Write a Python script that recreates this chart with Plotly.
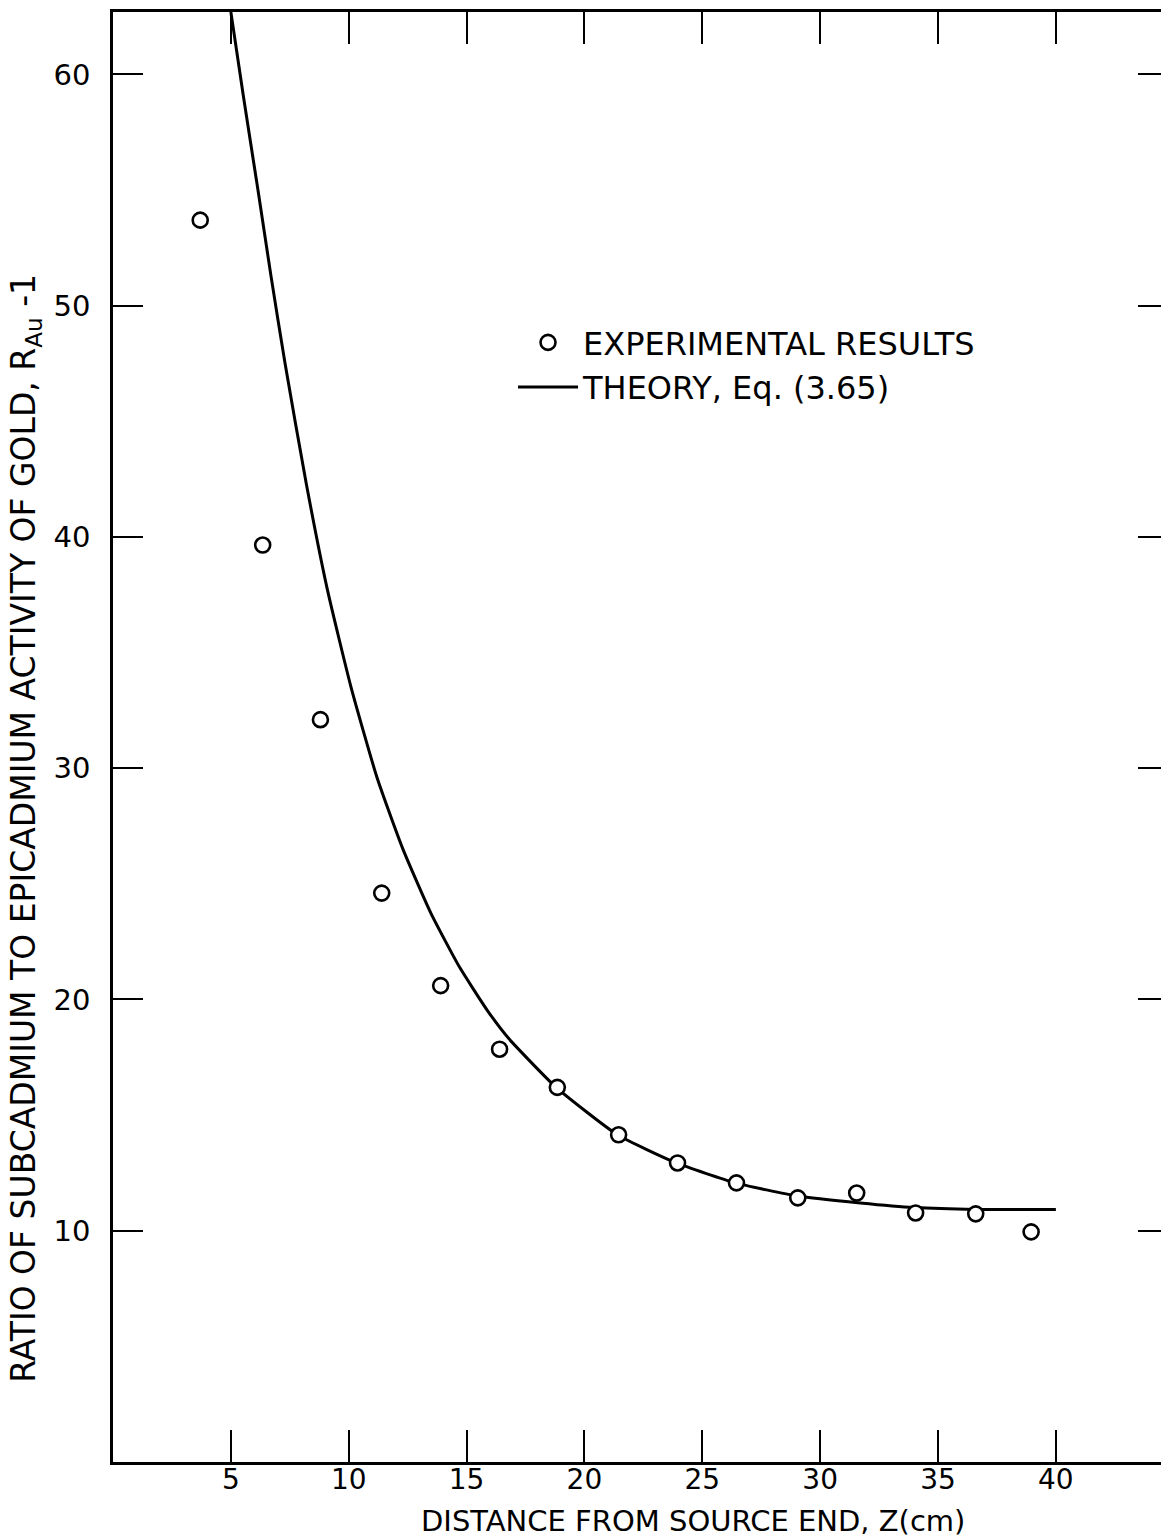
import plotly.graph_objects as go

exp_z = [3.7, 6.35, 8.8, 11.4, 13.9, 16.4, 18.85, 21.45, 23.95, 26.45, 29.05, 31.55, 34.05, 36.6, 38.95]
exp_r = [53.7, 39.65, 32.1, 24.6, 20.6, 17.85, 16.2, 14.15, 12.93, 12.07, 11.42, 11.63, 10.77, 10.73, 9.95]

# Theory curve, Eq. (3.65)
th_z = [5.0, 5.54, 6.15, 6.7, 7.3, 8.2, 9.1, 10.1, 11.2, 12.3, 13.5, 14.7, 15.9, 16.8,
        18.8, 21.4, 23.9, 26.4, 29.06, 31.7, 34.0, 36.6, 40.0]
th_r = [62.7, 59.0, 55.0, 51.3, 47.5, 42.3, 37.7, 33.5, 29.6, 26.5, 23.7, 21.4, 19.5, 18.3,
        16.2, 14.15, 12.93, 12.07, 11.5, 11.2, 11.0, 10.92, 10.92]

x_ticks = [5, 10, 15, 20, 25, 30, 35, 40]
y_ticks = [10, 20, 30, 40, 50, 60]

FONT = "DejaVu Sans"

fig = go.Figure()
fig.add_trace(go.Scatter(
    x=th_z, y=th_r, mode="lines", name="THEORY, Eq. (3.65)",
    line=dict(color="black", width=3, shape="spline", smoothing=0.5),
))
fig.add_trace(go.Scatter(
    x=exp_z, y=exp_r, mode="markers", name="EXPERIMENTAL RESULTS",
    marker=dict(symbol="circle", size=15, color="white", line=dict(color="black", width=2.6)),
))
# invisible trace to host the right-side ticks
fig.add_trace(go.Scatter(x=[None], y=[None], yaxis="y2", showlegend=False))

fig.update_layout(
    width=1161, height=1538,
    margin=dict(l=113, r=0, t=12, b=76),
    paper_bgcolor="white", plot_bgcolor="white",
    font=dict(family=FONT, color="black", size=28),
    showlegend=True,
    legend=dict(
        x=0.3817, y=0.791, xanchor="left", yanchor="top",
        traceorder="reversed", bgcolor="rgba(0,0,0,0)",
        font=dict(size=32, family=FONT), itemwidth=60, tracegroupgap=0,
    ),
    xaxis=dict(
        range=[0, 44.46], tickvals=x_ticks, ticktext=[str(v) for v in x_ticks],
        ticks="inside", ticklen=32, tickwidth=2, tickcolor="black",
        showline=True, linewidth=2.5, linecolor="black", mirror="ticks",
        showgrid=False, zeroline=False, tickfont=dict(size=28),
        ticklabelstandoff=-9,
    ),
    yaxis=dict(
        range=[0, 62.7], tickvals=y_ticks, ticktext=[str(v) for v in y_ticks],
        ticks="inside", ticklen=30, tickwidth=2, tickcolor="black",
        showline=True, linewidth=2.5, linecolor="black",
        showgrid=False, zeroline=False, tickfont=dict(size=29),
        ticklabelstandoff=14,
    ),
    yaxis2=dict(
        range=[0, 62.7], tickvals=y_ticks, overlaying="y", side="right",
        ticks="inside", ticklen=23, tickwidth=2, tickcolor="black",
        showline=False, showticklabels=False, showgrid=False, zeroline=False,
    ),
    annotations=[
        dict(text="DISTANCE FROM SOURCE END, Z(cm)", xref="paper", yref="paper",
             x=0.553, y=-0.0405, xanchor="center", yanchor="middle",
             showarrow=False, font=dict(size=29, family=FONT)),
        dict(text="RATIO OF SUBCADMIUM TO EPICADMIUM ACTIVITY OF GOLD, R<sub>Au</sub> -1",
             xref="paper", yref="paper", x=-0.0835, y=0.437,
             xanchor="center", yanchor="middle", textangle=-90,
             showarrow=False, font=dict(size=33, family=FONT)),
    ],
)

fig.write_html("out.html")
